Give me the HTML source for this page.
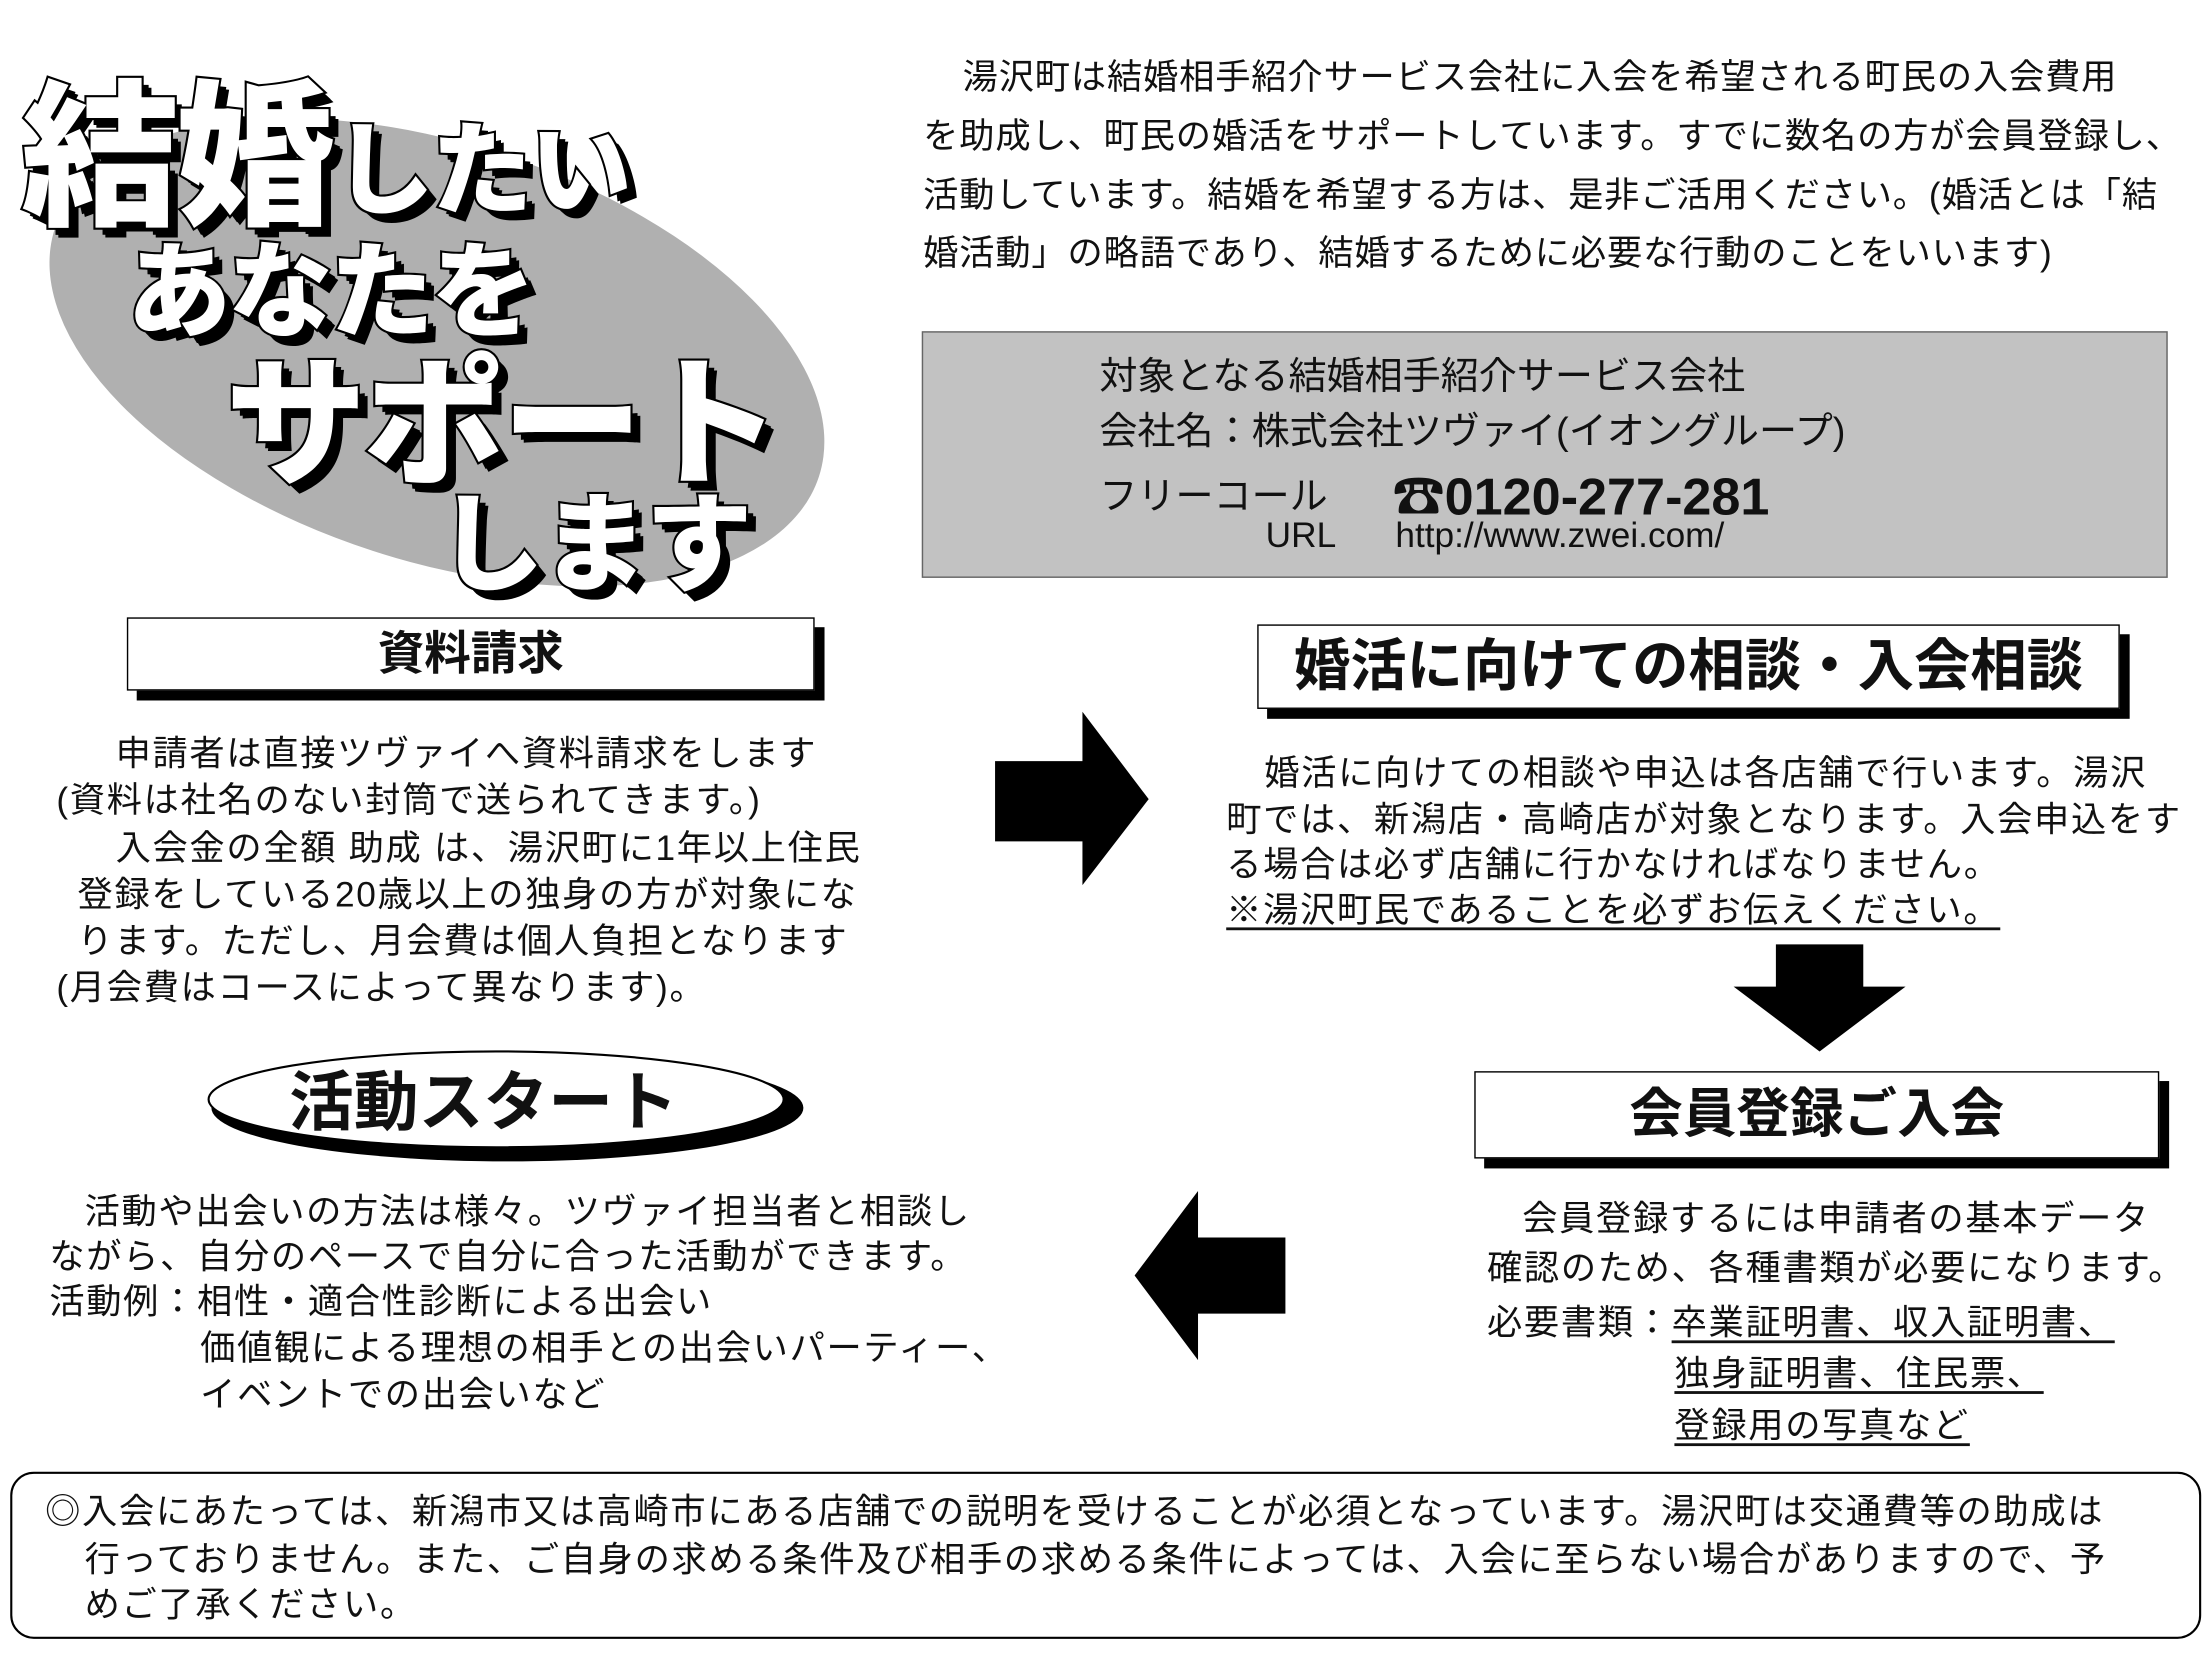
<!DOCTYPE html>
<html><head><meta charset="utf-8">
<style>
html,body{margin:0;padding:0;background:#fff;}
body{width:2210px;height:1657px;overflow:hidden;position:relative;}
#s{position:absolute;left:0;top:0;width:1568px;height:1176px;transform:scale(1.40944);transform-origin:0 0;font-family:"Liberation Sans","Noto Sans CJK JP",sans-serif;color:#111;}
.a{position:absolute;white-space:nowrap;}
.t{font-size:25px;letter-spacing:1.2px;}
.tp{font-size:25px;letter-spacing:0.6px;}
.big{font-weight:900;color:#fff;-webkit-text-stroke:3px #000;paint-order:stroke fill;text-shadow:5px 5px 0 #000,7px 7px 0 #000;letter-spacing:-2px;}
.box{position:absolute;background:#fff;border:1.5px solid #000;box-shadow:7px 7px 0 #000;text-align:center;font-weight:bold;}
u{text-decoration:underline;text-underline-offset:4px;}
</style></head><body><div id="s">
<svg class="a" style="left:0;top:0" width="1568" height="1176">
<ellipse cx="310" cy="250" rx="285" ry="148" transform="rotate(18 310 250)" fill="#b0b0b0"/>
<polygon points="706,540 768,540 768,505 815,567 768,628 768,597 706,597" fill="#000"/>
<polygon points="1260,670 1322,670 1322,700 1352,700 1291,746 1230,700 1260,700" fill="#000"/>
<polygon points="912,878 850,878 850,845 805,905 850,965 850,932 912,932" fill="#000"/>
<ellipse cx="360" cy="786" rx="210" ry="38" fill="#000"/>
<ellipse cx="352" cy="780" rx="204" ry="34" fill="#fff" stroke="#000" stroke-width="1.5"/>
<rect x="8" y="1045" width="1553" height="117" rx="16" fill="none" stroke="#000" stroke-width="1.5"/>
</svg>
<div class="a big" style="left:15px;top:22px;font-size:112px;">結婚</div>
<div class="a big" style="left:236px;top:62px;font-size:72px;">したい</div>
<div class="a big" style="left:90px;top:148px;font-size:74px;">あなたを</div>
<div class="a big" style="left:160px;top:220px;font-size:100px;">サポート</div>
<div class="a big" style="left:310px;top:325px;font-size:76px;">します</div>

<div class="a tp" style="left:683px;top:35px;">湯沢町は結婚相手紹介サービス会社に入会を希望される町民の入会費用</div>
<div class="a tp" style="left:655px;top:77px;">を助成し、町民の婚活をサポートしています。すでに数名の方が会員登録し、</div>
<div class="a tp" style="left:655px;top:119px;">活動しています。結婚を希望する方は、是非ご活用ください。(婚活とは「結</div>
<div class="a tp" style="left:655px;top:160px;">婚活動」の略語であり、結婚するために必要な行動のことをいいます)</div>

<div class="a" style="left:654px;top:235px;width:884px;height:175px;background:#c2c2c2;border:1px solid #666;box-sizing:border-box;"></div>
<div class="a" style="left:780px;top:245px;font-size:27px;">対象となる結婚相手紹介サービス会社</div>
<div class="a" style="left:780px;top:284px;font-size:27px;">会社名：株式会社ツヴァイ(イオングループ)</div>
<div class="a" style="left:780px;top:330px;font-size:27px;">フリーコール</div>
<div class="a" style="left:988px;top:322px;font-size:37px;font-weight:bold;">☎0120-277-281</div>
<div class="a" style="left:898px;top:366px;font-size:25px;">URL</div>
<div class="a" style="left:990px;top:366px;font-size:25px;">http://www.zwei.com/</div>

<div class="box" style="left:90px;top:438px;width:486px;height:50px;font-size:33px;line-height:50px;">資料請求</div>
<div class="a t" style="left:82px;top:515px;">申請者は直接ツヴァイへ資料請求をします</div>
<div class="a t" style="left:40px;top:548px;">(資料は社名のない封筒で送られてきます。)</div>
<div class="a t" style="left:82px;top:582px;">入会金の全額 助成 は、湯沢町に1年以上住民</div>
<div class="a t" style="left:55px;top:615px;">登録をしている20歳以上の独身の方が対象にな</div>
<div class="a t" style="left:55px;top:648px;">ります。ただし、月会費は個人負担となります</div>
<div class="a t" style="left:40px;top:681px;">(月会費はコースによって異なります)。</div>

<div class="box" style="left:892px;top:443px;width:610px;height:58px;font-size:40px;line-height:58px;">婚活に向けての相談・入会相談</div>
<div class="a t" style="left:897px;top:529px;">婚活に向けての相談や申込は各店舗で行います。湯沢</div>
<div class="a t" style="left:870px;top:562px;">町では、新潟店・高崎店が対象となります。入会申込をす</div>
<div class="a t" style="left:870px;top:594px;">る場合は必ず店舗に行かなければなりません。</div>
<div class="a t" style="left:870px;top:626px;"><u>※湯沢町民であることを必ずお伝えください。</u></div>

<div class="box" style="left:1046px;top:760px;width:484px;height:60px;font-size:38px;line-height:60px;">会員登録ご入会</div>
<div class="a t" style="left:1080px;top:845px;">会員登録するには申請者の基本データ</div>
<div class="a t" style="left:1055px;top:880px;">確認のため、各種書類が必要になります。</div>
<div class="a t" style="left:1055px;top:919px;">必要書類：<u>卒業証明書、収入証明書、</u></div>
<div class="a t" style="left:1188px;top:955px;"><u>独身証明書、住民票、</u></div>
<div class="a t" style="left:1188px;top:992px;"><u>登録用の写真など</u></div>

<div class="a" style="left:205px;top:746px;font-size:46px;font-weight:bold;">活動スタート</div>
<div class="a t" style="left:60px;top:840px;">活動や出会いの方法は様々。ツヴァイ担当者と相談し</div>
<div class="a t" style="left:35px;top:872px;">ながら、自分のペースで自分に合った活動ができます。</div>
<div class="a t" style="left:35px;top:904px;">活動例：相性・適合性診断による出会い</div>
<div class="a t" style="left:142px;top:937px;">価値観による理想の相手との出会いパーティー、</div>
<div class="a t" style="left:142px;top:970px;">イベントでの出会いなど</div>

<div class="a t" style="left:32px;top:1053px;">◎入会にあたっては、新潟市又は高崎市にある店舗での説明を受けることが必須となっています。湯沢町は交通費等の助成は</div>
<div class="a t" style="left:60px;top:1087px;">行っておりません。また、ご自身の求める条件及び相手の求める条件によっては、入会に至らない場合がありますので、予</div>
<div class="a t" style="left:60px;top:1119px;">めご了承ください。</div>
</div></body></html>
